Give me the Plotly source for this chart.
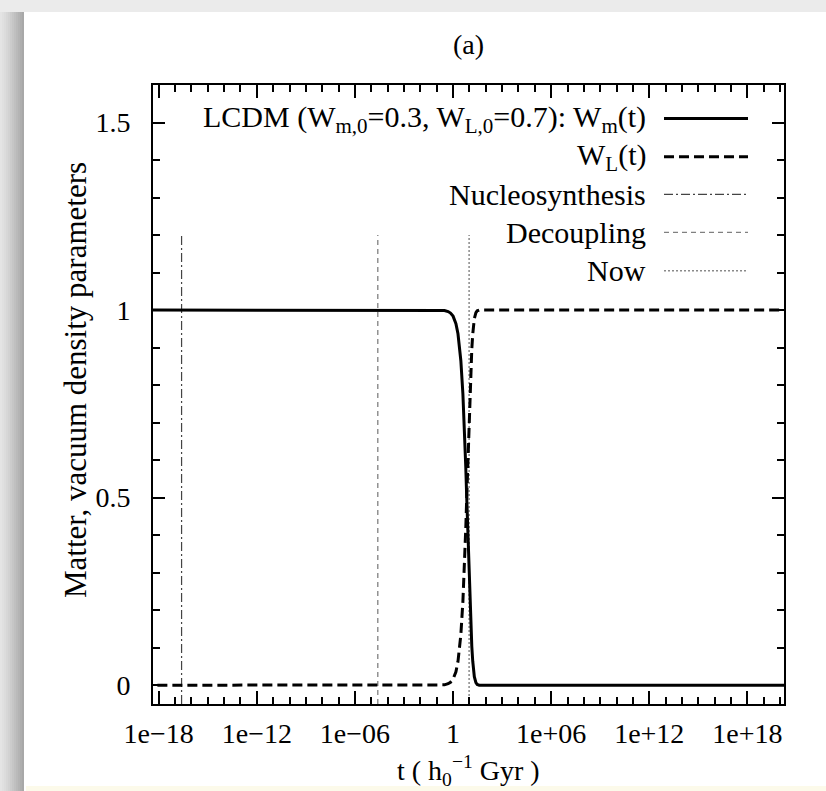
import plotly.graph_objects as go

# ---- data -------------------------------------------------------------
# cosmic time in h0^-1 Gyr and the LCDM density parameters
t_gyr = [1e-19, 1e-3, 0.1, 0.2, 0.3, 0.5, 0.7, 1, 1.5, 2, 3, 4, 5, 6, 7, 8, 9,
         10, 12, 14, 16, 18, 20, 25, 30, 40, 100, 1e21]
omega_m = [1.000, 1.000, 1.000, 0.999, 0.999, 0.996, 0.992, 0.984, 0.964, 0.937,
           0.865, 0.777, 0.680, 0.582, 0.488, 0.403, 0.329, 0.265, 0.168, 0.104,
           0.064, 0.039, 0.023, 0.007, 0.002, 0.000, 0.000, 0.000]
omega_l = [0.000, 0.000, 0.000, 0.001, 0.001, 0.004, 0.008, 0.016, 0.036, 0.063,
           0.135, 0.223, 0.320, 0.418, 0.512, 0.597, 0.671, 0.735, 0.832, 0.896,
           0.936, 0.961, 0.977, 0.993, 0.998, 1.000, 1.000, 1.000]

# epochs marked with vertical lines
event_names = ["Nucleosynthesis", "Decoupling", "Now"]
event_times = [2.5e-17, 2.5e-05, 9.6]
event_top = 1.2

x_tick_vals = [1e-18, 1e-12, 1e-06, 1, 1e06, 1e12, 1e18]
x_tick_text = ["1e\u221218", "1e\u221212", "1e\u221206", "1", "1e+06", "1e+12", "1e+18"]

# ---- geometry -----------------------------------------------------------
W, H = 826, 791
ML, MR, MT, MB = 153, 42, 85, 87
PW, PH = W - ML - MR, H - MT - MB
Y_MIN, Y_MAX = -0.05, 1.6


def px_x(px):
    return (px - ML) / PW


def px_y(py):
    return (H - MB - py) / PH


FONT = "Liberation Serif"

event_styles = {
    "Nucleosynthesis": dict(color="#444444", width=1.2, dash="9px,3px,2px,3px"),
    "Decoupling": dict(color="#808080", width=1.3, dash="5px,4px"),
    "Now": dict(color="#8a8a8a", width=1.5, dash="2px,2px"),
}
curve_styles = {
    "m": dict(color="black", width=3),
    "L": dict(color="black", width=3, dash="10px,5px"),
}

fig = go.Figure()

for name, tv in zip(event_names, event_times):
    fig.add_trace(go.Scatter(x=[tv, tv], y=[Y_MIN, event_top], mode="lines",
                             line=event_styles[name], name=name, hoverinfo="skip"))

fig.add_trace(go.Scatter(x=t_gyr, y=omega_m, mode="lines", line=curve_styles["m"],
                         name="W_m(t)"))
fig.add_trace(go.Scatter(x=t_gyr, y=omega_l, mode="lines", line=curve_styles["L"],
                         name="W_L(t)"))

# ---- key (text on the left, sample on the right) -----------------------
key_rows = [
    ("LCDM (W<sub>m,0</sub>=0.3, W<sub>L,0</sub>=0.7): W<sub>m</sub>(t)", curve_styles["m"]),
    ("W<sub>L</sub>(t)", curve_styles["L"]),
    ("Nucleosynthesis", event_styles["Nucleosynthesis"]),
    ("Decoupling", event_styles["Decoupling"]),
    ("Now", event_styles["Now"]),
]
key_row_px = [118.5, 156.7, 194.3, 232.3, 270.7]
annotations = []
shapes = []
for (label, style), ypx in zip(key_rows, key_row_px):
    annotations.append(dict(text=label, xref="paper", yref="paper",
                            x=px_x(648), y=px_y(ypx), xanchor="right", yanchor="middle",
                            showarrow=False, font=dict(family=FONT, size=30)))
    shapes.append(dict(type="line", xref="paper", yref="paper",
                       x0=px_x(664), x1=px_x(748), y0=px_y(ypx), y1=px_y(ypx),
                       line=style, layer="above"))

# panel label and axis titles
annotations.append(dict(text="(a)", xref="paper", yref="paper", x=0.5, y=px_y(44),
                        xanchor="center", yanchor="middle", showarrow=False,
                        font=dict(family=FONT, size=28)))
annotations.append(dict(text="t ( h<sub>0</sub><sup>\u22121</sup> Gyr )", xref="paper",
                        yref="paper", x=0.5, y=px_y(770), xanchor="center",
                        yanchor="middle", showarrow=False,
                        font=dict(family=FONT, size=28)))
annotations.append(dict(text="Matter, vacuum density parameters", xref="paper",
                        yref="paper", x=px_x(75), y=px_y(380), xanchor="center",
                        yanchor="middle", textangle=-90, showarrow=False,
                        font=dict(family=FONT, size=31)))

# ---- page backdrop: light frame with a soft shadow on the left ----------
backdrop = []
backdrop.append(dict(type="rect", xref="paper", yref="paper",
                     x0=px_x(0), x1=px_x(W), y0=px_y(0), y1=px_y(12),
                     fillcolor="#ebebeb", line=dict(width=0), layer="below"))
shadow_greys = ["#e4e4e4", "#e0e0e0", "#dcdcdc", "#d7d7d7", "#d2d2d2", "#cccccc",
                "#c6c6c6", "#c0c0c0", "#bababa", "#b4b4b4", "#aeaeae", "#a8a8a8"]
step = 2
for i, g in enumerate(shadow_greys):
    backdrop.append(dict(type="rect", xref="paper", yref="paper",
                         x0=px_x(i * step), x1=px_x((i + 1) * step), y0=px_y(12), y1=px_y(H),
                         fillcolor=g, line=dict(width=0), layer="below"))
backdrop.append(dict(type="rect", xref="paper", yref="paper",
                     x0=px_x(26), x1=px_x(W), y0=px_y(786), y1=px_y(H),
                     fillcolor="#fcfaea", line=dict(width=0), layer="below"))

fig.update_layout(
    width=W, height=H,
    margin=dict(l=ML, r=MR, t=MT, b=MB),
    paper_bgcolor="white", plot_bgcolor="white",
    showlegend=False,
    font=dict(family=FONT, size=28, color="black"),
    annotations=annotations,
    shapes=backdrop + shapes,
    xaxis=dict(
        type="log", range=[-18.35, 20.24],
        showline=True, linewidth=2, linecolor="black", mirror="ticks",
        ticks="inside", ticklen=13, tickwidth=1.6, tickcolor="black",
        tickmode="array", tickvals=x_tick_vals, ticktext=x_tick_text,
        ticklabelstandoff=3,
        showgrid=False, zeroline=False,
        minor=dict(tickmode="array", tickvals=[10.0 ** k for k in range(-18, 21)],
                   ticks="inside", ticklen=7, tickwidth=1.6, tickcolor="black",
                   showgrid=False),
        tickfont=dict(family=FONT, size=28),
    ),
    yaxis=dict(
        range=[Y_MIN, Y_MAX],
        showline=True, linewidth=2, linecolor="black", mirror="ticks",
        ticks="inside", ticklen=12, tickwidth=1.6, tickcolor="black",
        tick0=0, dtick=0.5, ticklabelstandoff=15,
        showgrid=False, zeroline=False,
        minor=dict(dtick=0.1, tick0=0, ticks="inside", ticklen=7, tickwidth=1.6,
                   tickcolor="black", showgrid=False),
        tickfont=dict(family=FONT, size=28),
    ),
)

fig.write_html("out.html")
